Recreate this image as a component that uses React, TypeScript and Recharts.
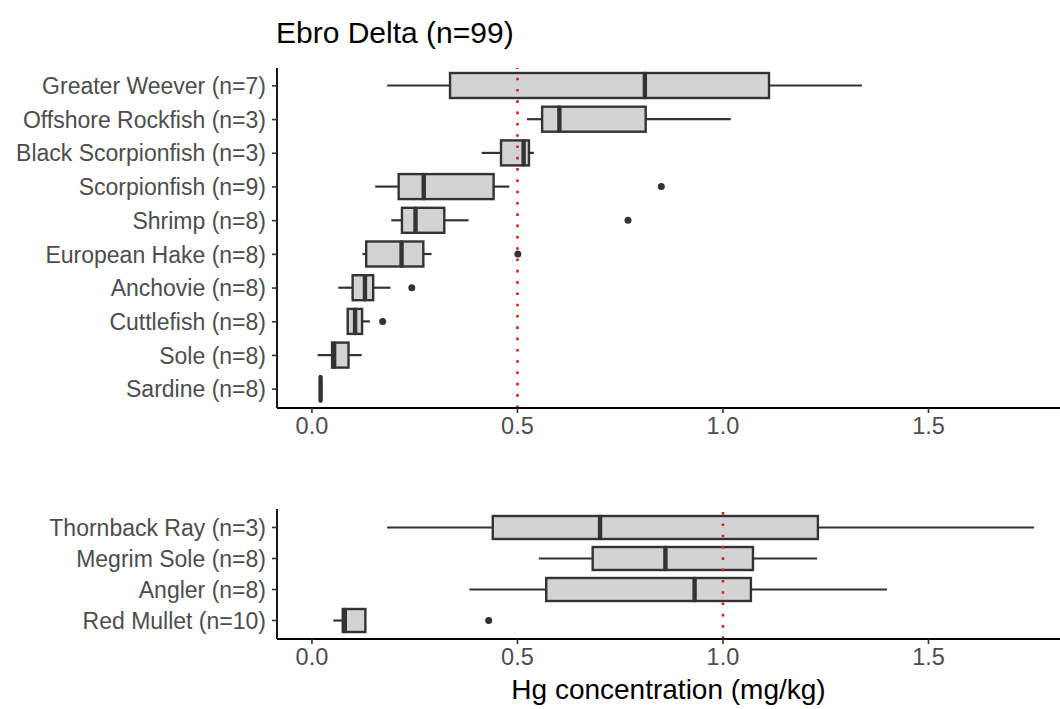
import React from 'react';
import { ComposedChart, Bar, XAxis, YAxis, ReferenceLine } from 'recharts';

// Top panel: species list and box-plot stats (mg/kg)
const topNames = [
  'Greater Weever (n=7)',
  'Offshore Rockfish (n=3)',
  'Black Scorpionfish (n=3)',
  'Scorpionfish (n=9)',
  'Shrimp (n=8)',
  'European Hake (n=8)',
  'Anchovie (n=8)',
  'Cuttlefish (n=8)',
  'Sole (n=8)',
  'Sardine (n=8)',
];
const topMin = [0.183, 0.523, 0.413, 0.154, 0.193, 0.123, 0.064, 0.086, 0.014, 0.019];
const topQ1 = [0.336, 0.56, 0.46, 0.211, 0.219, 0.132, 0.099, 0.087, 0.049, 0.02];
const topMedian = [0.81, 0.602, 0.515, 0.272, 0.252, 0.218, 0.129, 0.105, 0.054, 0.021];
const topQ3 = [1.112, 0.812, 0.528, 0.442, 0.322, 0.271, 0.149, 0.122, 0.089, 0.022];
const topMax = [1.338, 1.019, 0.54, 0.48, 0.381, 0.291, 0.191, 0.141, 0.121, 0.023];
const topOutlier = [null, null, null, 0.85, 0.769, 0.501, 0.243, 0.172, null, null];

// Bottom panel
const bottomNames = ['Thornback Ray (n=3)', 'Megrim Sole (n=8)', 'Angler (n=8)', 'Red Mullet (n=10)'];
const bottomMin = [0.183, 0.552, 0.383, 0.052];
const bottomQ1 = [0.44, 0.683, 0.57, 0.075];
const bottomMedian = [0.701, 0.86, 0.931, 0.08];
const bottomQ3 = [1.231, 1.073, 1.068, 0.13];
const bottomMax = [1.757, 1.229, 1.399, 0.13];
const bottomOutlier = [null, null, null, 0.43];

const xTicks = [0, 0.5, 1, 1.5];
const xDomain = [-0.085, 1.82];

const INK = '#333333';
const FILL = '#D3D3D3';
const TEXT = '#4D4D4D';
const FONT = '"Liberation Sans", Arial, sans-serif';

function buildRows(
  names: string[],
  mins: number[],
  q1: number[],
  med: number[],
  q3: number[],
  max: number[],
  out: (number | null)[]
) {
  return names.map((name, i) => ({
    name,
    base: mins[i],
    wl: q1[i] - mins[i],
    bl: med[i] - q1[i],
    bh: q3[i] - med[i],
    wh: max[i] - q3[i],
    og: out[i] != null ? (out[i] as number) - max[i] : 0,
    out: out[i],
  }));
}

const topData = buildRows(topNames, topMin, topQ1, topMedian, topQ3, topMax, topOutlier);
const bottomData = buildRows(bottomNames, bottomMin, bottomQ1, bottomMedian, bottomQ3, bottomMax, bottomOutlier);

const Empty = () => <g />;

const Whisker = (props: any) => {
  const { x, y, width, height } = props;
  const cy = y + height / 2;
  return <line x1={x} x2={x + width} y1={cy} y2={cy} stroke={INK} strokeWidth={2.2} />;
};

const BoxLow = (props: any) => {
  const { x, y, width, height } = props;
  return <rect x={x} y={y} width={Math.max(width, 0)} height={height} fill={FILL} stroke={INK} strokeWidth={2.4} />;
};

const BoxHigh = (props: any) => {
  const { x, y, width, height } = props;
  return (
    <g>
      <rect x={x} y={y} width={Math.max(width, 0)} height={height} fill={FILL} stroke={INK} strokeWidth={2.4} />
      <line x1={x} x2={x} y1={y} y2={y + height} stroke={INK} strokeWidth={4.4} />
    </g>
  );
};

const Outlier = (props: any) => {
  const { x, y, width, height, payload } = props;
  if (payload == null || payload.out == null) return <g />;
  return <circle cx={x + width} cy={y + height / 2} r={3.5} fill={INK} />;
};

interface PanelProps {
  data: any[];
  refValue: number;
  top: number;
  height: number;
  marginTop: number;
  barSize: number;
  padTop: number;
  padBottom: number;
}

function Panel({ data, refValue, top, height, marginTop, barSize, padTop, padBottom }: PanelProps) {
  return (
    <div style={{ position: 'absolute', left: 0, top }}>
      <ComposedChart
        width={1060}
        height={height}
        data={data}
        layout="vertical"
        margin={{ top: marginTop, right: 0, left: 0, bottom: 0 }}
        barSize={barSize}
      >
        <XAxis
          type="number"
          domain={xDomain}
          allowDataOverflow
          ticks={xTicks}
          tickFormatter={(v: number) => v.toFixed(1)}
          height={40}
          axisLine={{ stroke: '#000', strokeWidth: 1.8 }}
          tickLine={{ stroke: INK, strokeWidth: 1.6 }}
          tickSize={5}
          tickMargin={4}
          tick={{ fill: TEXT, fontSize: 23.5, fontFamily: FONT }}
        />
        <YAxis
          type="category"
          dataKey="name"
          width={277}
          padding={{ top: padTop, bottom: padBottom }}
          axisLine={{ stroke: '#000', strokeWidth: 1.8 }}
          tickLine={{ stroke: INK, strokeWidth: 1.6 }}
          tickSize={5}
          tickMargin={6}
          interval={0}
          tick={{ fill: TEXT, fontSize: 23, fontFamily: FONT }}
        />
        <Bar dataKey="base" stackId="b" shape={Empty} isAnimationActive={false} />
        <Bar dataKey="wl" stackId="b" shape={Whisker} isAnimationActive={false} />
        <Bar dataKey="bl" stackId="b" shape={BoxLow} isAnimationActive={false} />
        <Bar dataKey="bh" stackId="b" shape={BoxHigh} isAnimationActive={false} />
        <Bar dataKey="wh" stackId="b" shape={Whisker} isAnimationActive={false} />
        <Bar dataKey="og" stackId="b" shape={Outlier} isAnimationActive={false} />
        <ReferenceLine x={refValue} stroke="#D42222" strokeWidth={2.6} strokeDasharray="2.6 8.7" />
      </ComposedChart>
    </div>
  );
}

export default function App() {
  return (
    <div style={{ position: 'relative', width: 1060, height: 709, background: '#fff', fontFamily: FONT }}>
      <style>{'body { margin: 0; }'}</style>
      <div style={{ position: 'absolute', left: 276, top: 18, fontSize: 30, lineHeight: 1, color: '#000', whiteSpace: 'nowrap' }}>
        Ebro Delta (n=99)
      </div>
      <Panel data={topData} refValue={0.5} top={0} height={448} marginTop={68} barSize={25} padTop={1} padBottom={2} />
      <Panel data={bottomData} refValue={1} top={460} height={219} marginTop={49} barSize={23} padTop={3} padBottom={3} />
      <div
        style={{
          position: 'absolute',
          left: 277,
          width: 783,
          top: 676,
          textAlign: 'center',
          fontSize: 28,
          lineHeight: 1,
          color: '#000',
          whiteSpace: 'nowrap',
        }}
      >
        Hg concentration (mg/kg)
      </div>
    </div>
  );
}
